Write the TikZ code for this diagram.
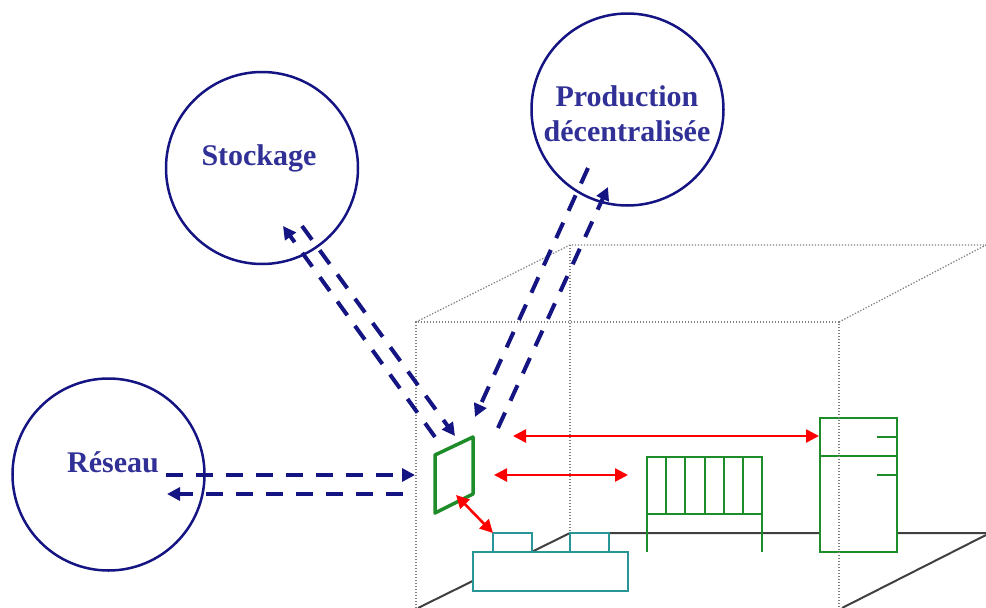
\documentclass[tikz,border=0pt]{standalone}
\usepackage{fontspec}
\usepackage{xcolor}
\usetikzlibrary{arrows.meta, positioning, calc}
\setmainfont{Liberation Serif}
\definecolor{bleu}{RGB}{20,20,130}
\definecolor{bleutxt}{RGB}{48,48,150}
\definecolor{vert}{RGB}{30,140,40}
\definecolor{sarcelle}{RGB}{40,150,150}

\begin{document}
\begin{tikzpicture}[x=1pt, y=-1pt,
    circ/.style={circle, draw=bleu, line width=2.5pt, inner sep=0pt, minimum size=192pt},
    lbl/.style={text=bleutxt, align=center, font=\fontsize{30}{35}\selectfont\bfseries, inner sep=0pt},
    fleche/.style={-{Triangle[length=13pt, width=13pt]}, draw=bleu, line width=4pt, dash pattern=on 17pt off 13pt},
    rouge/.style={{Triangle[length=13pt, width=13pt]}-{Triangle[length=13pt, width=13pt]}, draw=red, line width=2.6pt},
    meuble/.style={rectangle, draw=vert, line width=2pt, fill=white, inner sep=0pt, outer sep=0pt},
    four/.style={rectangle, draw=sarcelle, line width=2pt, fill=white, inner sep=0pt, outer sep=0pt},
    piece/.style={draw=gray, line width=1.3pt, dash pattern=on 1.3pt off 1.7pt},
    sol/.style={draw=black!75, line width=2pt}]

    \useasboundingbox (0,0) rectangle (986,608);

    \coordinate (A1) at (416,322);
    \coordinate (A2) at (839,322);
    \coordinate (A3) at (570,245);
    \coordinate (A4) at (986,245);
    \coordinate (A5) at (416,608);
    \coordinate (A6) at (839,608);
    \coordinate (S1) at (570,533);
    \coordinate (S2) at (986,533);
    \coordinate (S3) at (418,608);
    \coordinate (S4) at (842,608);
    \coordinate (S5) at (986,535);

    % floor
    \draw[sol] (S3) -- (S1) -- (S2);
    \draw[sol] (S4) -- (S5);

    \node[circ] (C1) at (262,168) {};
    \node[circ] (C2) at (627.5,109.5) {};
    \node[circ] (C3) at (108.5,474.5) {};
    \node[lbl] (L1) at (259,158) {Stockage};
    \node[lbl] (L2) at (627,113.5) {Production\\décentralisée};
    \node[lbl] (L3) at (113,462) {Réseau};

    % fridge
    \node[meuble, minimum width=77pt, minimum height=134pt] (F1) at (858.5,485) {};
    \coordinate (F2) at (820,456);
    \coordinate (F3) at (897,456);
    \coordinate (F4) at (877,437);
    \coordinate (F5) at (897,437);
    \coordinate (F6) at (877,475);
    \coordinate (F7) at (897,475);
    \draw[draw=vert, line width=2pt] (F2) -- (F3) (F4) -- (F5) (F6) -- (F7);

    % radiator
    \node[meuble, fill=none, minimum width=115pt, minimum height=57pt] (R1) at (704.5,485.5) {};
    \foreach \i in {1,...,5}
        \draw[draw=vert, line width=2pt] ($(R1.north west)+(\i*19.17,0)$) -- ($(R1.south west)+(\i*19.17,0)$);
    \coordinate (R2) at (647,552);
    \coordinate (R3) at (762,552);
    \draw[draw=vert, line width=2pt] (R1.south west) -- (R2) (R1.south east) -- (R3);

    % stove
    \node[four, minimum width=39pt, minimum height=19pt] (T1) at (512.5,542.5) {};
    \node[four, minimum width=39pt, minimum height=19pt] (T2) at (589.5,542.5) {};
    \node[four, minimum width=155pt, minimum height=39pt] (T3) at (550.5,571.5) {};

    % room
    \draw[piece] (A5) -- (A1) -- (A2) -- (A6);
    \draw[piece] (A1) -- (A3) -- (A4);
    \draw[piece] (A2) -- (A4);
    \draw[piece] (A3) -- (S1);

    % panel
    \coordinate (P1) at (435,455);
    \coordinate (P2) at (473,437);
    \coordinate (P3) at (473,494);
    \coordinate (P4) at (435,513);
    \draw[draw=vert, line width=3.5pt, line join=round] (P1) -- (P2) -- (P3) -- (P4) -- cycle;

    % ends of the arrows
    \coordinate (D1) at (166,475);
    \coordinate (D2) at (415,475);
    \coordinate (D3) at (403,494);
    \coordinate (D4) at (167,494);
    \coordinate (D5) at (435,437);
    \coordinate (D6) at (283,226);
    \coordinate (D7) at (302,226);
    \coordinate (D8) at (455,436);
    \coordinate (D9) at (588,168);
    \coordinate (D10) at (475,417);
    \coordinate (D11) at (498,428);
    \coordinate (D12) at (608,187);
    \coordinate (E1) at (513,436);
    \coordinate (E2) at (819,436);
    \coordinate (E3) at (494,475);
    \coordinate (E4) at (628,475);
    \coordinate (E5) at (456,495);
    \coordinate (E6) at (493,533);

    \path
    (D1) edge[fleche] (D2)
    (D3) edge[fleche] (D4)
    (D5) edge[fleche] (D6)
    (D7) edge[fleche] (D8)
    (D9) edge[fleche] (D10)
    (D11) edge[fleche] (D12)
    ;

    \path
    (E1) edge[rouge] (E2)
    (E3) edge[rouge] (E4)
    (E5) edge[rouge] (E6)
    ;

\end{tikzpicture}
\end{document}
